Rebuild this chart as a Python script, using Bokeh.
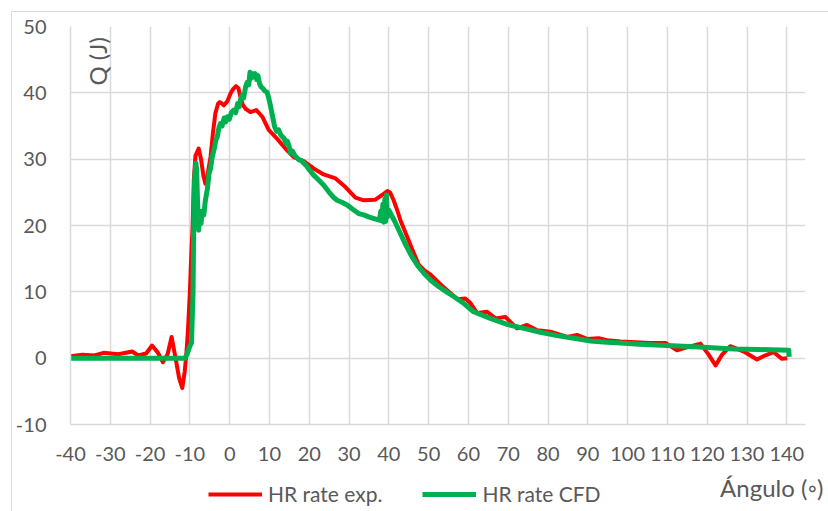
from bokeh.plotting import figure
from bokeh.models import FixedTicker, Label, Legend, LegendItem, Range1d
from bokeh.layouts import column
from bokeh.embed import file_html
from bokeh.resources import INLINE
import math

# Heat release curves: crank angle (degrees) vs Q (J)
ang_exp = [-40, -37, -34, -31.7, -28, -24.5, -23, -21, -19.5, -18, -16.8, -15.6,
           -14.6, -13.6, -12.7, -11.9, -11.3, -10.9, -10.5, -10.0, -9.7, -9.3,
           -9.0, -8.6, -7.8, -7.2, -6.6, -6.1, -5.6, -4.8, -4.2, -3.6, -2.9,
           -2.5, -2.0, -1.5, -0.6, 0.2, 0.9, 1.6, 2.2, 2.7, 3.3, 4.0, 5.2, 6.7,
           8.2, 9.8, 11.9, 14.0, 16.1, 18.6, 21.1, 23.6, 26.6, 29.1, 31.6, 33.7,
           36.6, 38.3, 39.6, 40.3, 41.2, 42.1, 42.9, 44.6, 45.8, 47.5, 49.0, 50.5,
           53.0, 55.5, 57.2, 59.2, 60.5, 62.2, 64.7, 66.8, 69.3, 72.2, 74.7, 77.3,
           80.6, 84.8, 87.3, 89.8, 92.7, 94.8, 98.2, 102.0, 105.7, 109.5, 112.4,
           115.3, 118.3, 120.4, 122.1, 123.7, 125.8, 129.2, 132.5, 134.5, 136.7,
           138.8, 140.1]
q_exp = [0.3, 0.5, 0.4, 0.8, 0.6, 1.0, 0.4, 0.7, 1.9, 0.8, -0.6, 0.6,
         3.2, 0.0, -3.0, -4.5, -2.0, 0.5, 4.0, 10.0, 14.8, 20.0,
         27.0, 30.5, 31.6, 30.0, 27.5, 26.3, 27.5, 30.4, 34.0, 36.9, 38.4,
         38.6, 38.4, 38.1, 38.7, 39.9, 40.6, 41.0, 40.7, 39.4, 38.2, 37.6, 37.1, 37.4,
         36.4, 34.4, 33.1, 31.6, 30.3, 29.7, 28.6, 27.7, 27.1, 25.8, 24.2, 23.8,
         23.9, 24.6, 25.2, 25.0, 23.8, 22.3, 20.8, 18.3, 16.5, 14.1, 13.2, 12.6,
         11.1, 9.8, 8.9, 9.0, 8.3, 6.8, 7.0, 6.0, 6.2, 4.5, 5.0, 4.2,
         4.0, 3.2, 3.5, 2.9, 3.0, 2.7, 2.5, 2.4, 2.3, 2.3, 1.2,
         1.7, 2.2, 0.5, -1.1, 0.5, 1.8, 1.0, -0.2, 0.4, 0.9,
         -0.1, 0.0]

ang_cfd = [-40, -11.2, -10.6, -10.0, -9.6, -9.2, -9.0, -8.8, -8.5, -8.3, -8.1,
           -7.8, -7.5, -7.2, -6.9, -6.5, -6.1, -5.6, -5.2, -4.8, -4.4, -3.9,
           -3.5, -3.1, -2.7, -2.3, -1.9, -1.4, -1.0, -0.6, -0.1, 0.4, 1.0, 1.5,
           2.0, 2.4, 2.7, 3.1, 3.5, 4.0, 4.4, 4.8, 5.1, 5.4, 5.7, 6.1, 6.4, 6.8,
           7.1, 7.5, 7.9, 8.3, 8.8, 9.4, 9.9, 10.3, 10.8, 11.3, 11.8, 12.3, 12.8,
           13.2, 13.7, 14.1, 14.5, 14.9, 15.3, 15.8, 16.3, 16.8, 17.4, 18.0,
           18.6, 19.3, 20.0, 21.1, 22.3, 23.6, 25.0, 26.0, 27.0, 28.2, 29.5,
           31.0, 32.4, 33.7, 34.9, 36.5, 37.6, 38.0, 38.2, 38.5, 38.7, 39.0,
           39.2, 39.4, 39.6, 40.0, 41.5, 42.9, 44.3, 45.8, 47.3, 48.8, 50.6,
           52.5, 54.5, 56.3, 58.5, 61.3, 65.5, 69.7, 73.9, 78.1, 82.3, 86.5,
           90.7, 94.8, 98.2, 103.0, 109.9, 118.0, 126.7, 133.0, 140.5, 140.6]
q_cfd = [0.0, 0.0, 0.8, 1.8, 2.3, 10.0, 22.0, 27.0, 29.4, 28.5, 24.0,
         19.3, 21.5, 20.3, 22.2, 21.6, 23.8, 25.5, 27.8, 28.6, 30.3, 31.5,
         32.8, 33.4, 34.8, 35.4, 35.0, 36.2, 35.6, 36.4, 36.0, 37.0, 37.4, 37.0,
         38.4, 37.9, 38.9, 39.6, 39.2, 40.9, 41.6, 41.2, 43.1, 42.2, 42.9, 42.4, 42.9, 42.0,
         42.6, 41.4, 40.9, 40.7, 40.3, 40.1, 39.0, 37.9, 36.4, 34.9, 34.2, 34.4, 33.7,
         33.4, 33.1, 32.4, 32.7, 32.0, 30.9, 31.2, 30.6, 30.3, 29.9, 29.8,
         29.4, 29.0, 28.4, 27.6, 26.9, 26.1, 25.0, 24.3, 23.8, 23.5, 23.1,
         22.4, 21.8, 21.6, 21.3, 21.0, 20.8, 22.2, 20.7, 23.2, 20.5, 24.0,
         20.6, 24.6, 21.3, 22.3, 20.6, 18.8, 17.0, 15.3, 13.9, 12.8, 11.7,
         10.8, 10.0, 9.3, 8.4, 7.0, 6.0, 5.1, 4.5, 3.9, 3.4, 3.0,
         2.6, 2.4, 2.3, 2.1, 1.9, 1.7, 1.4, 1.3, 1.2, 0.2]

x_ticks = list(range(-40, 141, 10))
y_ticks = list(range(-10, 51, 10))
series_names = ["HR rate exp.", "HR rate CFD"]
series_colors = ["#ff0000", "#00b050"]
series_widths = [4, 5]

FONT = "Lato"
TXT = "#595959"
GRID = "#d9d9d9"
W = 828
TOP_H = 468

# ---- main chart -------------------------------------------------------
p = figure(width=W, height=TOP_H, output_backend="svg", toolbar_location=None,
           x_range=Range1d(-40, 144.7), y_range=Range1d(-10, 50),
           min_border_left=70, min_border_right=23, min_border_top=26,
           min_border_bottom=44)
p.outline_line_color = None
p.background_fill_color = "white"
p.border_fill_alpha = 0
# thin chart-area border along the top and left edges
p.styles = {
    "background": (
        f"linear-gradient({GRID}, {GRID}) 11px 11px / 1px calc(100% - 11px) no-repeat, "
        f"linear-gradient({GRID}, {GRID}) 11px 11px / calc(100% - 11px) 1px no-repeat, "
        "#ffffff"
    )
}

for ax, ticks in ((p.xaxis, x_ticks), (p.yaxis, y_ticks)):
    ax.ticker = FixedTicker(ticks=ticks)
    ax.major_label_overrides = {t: str(t) for t in ticks}
    ax.major_tick_line_color = None
    ax.minor_tick_line_color = None
    ax.major_label_text_font = FONT
    ax.major_label_text_font_size = "20px"
    ax.major_label_text_color = TXT
p.xaxis.axis_line_color = GRID
p.xaxis.axis_line_width = 1.5
p.yaxis.axis_line_color = GRID
p.yaxis.axis_line_width = 1.5
p.xaxis.major_label_standoff = 16
p.yaxis.major_label_standoff = 18

p.xgrid.ticker = FixedTicker(ticks=x_ticks)
p.ygrid.ticker = FixedTicker(ticks=y_ticks)
p.grid.grid_line_color = GRID
p.grid.grid_line_width = 1.5

p.line(ang_exp, q_exp, line_color=series_colors[0], line_width=series_widths[0],
       line_join="round")
p.line(ang_cfd, q_cfd, line_color=series_colors[1], line_width=series_widths[1],
       line_join="round")

p.add_layout(Label(x=27, y=339, x_units="screen", y_units="screen", text="Q (J)",
                   angle=math.pi / 2, text_align="left", text_baseline="middle",
                   text_font=FONT, text_font_size="24px", text_color=TXT))

# ---- strip below: x-axis title and legend -----------------------------
BOT_H = 511 - TOP_H
q = figure(width=W, height=BOT_H, output_backend="svg", toolbar_location=None,
           x_range=Range1d(0, 1), y_range=Range1d(0, 1),
           x_axis_type=None, y_axis_type=None,
           min_border_left=0, min_border_right=0, min_border_top=0,
           min_border_bottom=0)
# the strip's frame spans its whole width instead of following the chart frame
q.frame_align = False
q.grid.visible = False
q.outline_line_color = None
q.background_fill_alpha = 0
q.border_fill_alpha = 0
q.styles = {
    "background": (
        f"linear-gradient({GRID}, {GRID}) 11px 0 / 1px 100% no-repeat, #ffffff"
    )
}

q.add_layout(Label(x=823, y=24, x_units="screen", y_units="screen",
                   text="Ángulo (◦)", text_align="right", text_baseline="alphabetic",
                   text_font=FONT, text_font_size="24px", text_color=TXT))

# legend keys: line renderers styled like the series, kept outside the strip's range
keys = [q.line(x=[-2, -1], y=[-2, -2], line_color=c, line_width=w)
        for c, w in zip(series_colors, series_widths)]
legend = Legend(items=[LegendItem(label=n, renderers=[r])
                       for n, r in zip(series_names, keys)],
                orientation="horizontal", location=(208, 5),
                glyph_width=54, glyph_height=20, label_standoff=6, spacing=40,
                padding=0, margin=0, border_line_alpha=0, background_fill_alpha=0,
                label_text_font=FONT, label_text_font_size="21px",
                label_text_color=TXT)
q.add_layout(legend, "center")

layout = column(p, q, spacing=0)
open("out.html", "w").write(file_html(layout, INLINE))
